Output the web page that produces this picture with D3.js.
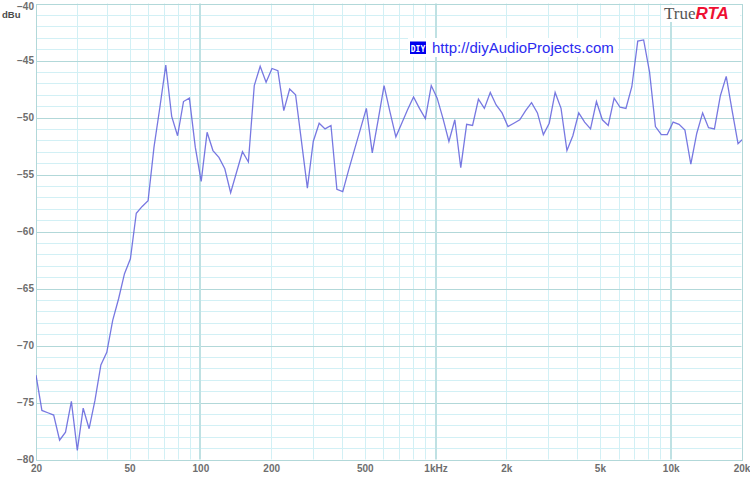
<!DOCTYPE html>
<html>
<head>
<meta charset="utf-8">
<script src="https://cdn.jsdelivr.net/npm/d3@7"></script>
<style>
  html, body { margin: 0; padding: 0; background: #ffffff; }
  svg { display: block; }
</style>
</head>
<body>
<svg id="chart" width="750" height="484"></svg>
<script>
// ---- data ----
const freqs = [
  20.0, 21.19, 22.45, 23.78, 25.20, 26.70, 28.28, 29.97, 31.75, 33.64,
  35.64, 37.75, 40.00, 42.38, 44.90, 47.57, 50.40, 53.39, 56.57, 59.93,
  63.50, 67.27, 71.27, 75.51, 80.00, 84.76, 89.80, 95.14, 100.8, 106.8,
  113.1, 119.9, 127.0, 134.5, 142.5, 151.0, 160.0, 169.5, 179.6, 190.3,
  201.6, 213.6, 226.3, 239.7, 254.0, 269.1, 285.1, 302.0, 320.0, 339.0,
  359.2, 380.6, 403.2, 427.2, 452.5, 479.5, 508.0, 538.2, 570.2, 604.1,
  640.0, 678.1, 718.4, 761.1, 806.3, 854.3, 905.1, 958.9, 1016, 1076,
  1140, 1208, 1280, 1356, 1437, 1522, 1613, 1709, 1810, 1918,
  2032, 2153, 2281, 2416, 2560, 2712, 2874, 3044, 3225, 3417,
  3620, 3836, 4064, 4305, 4561, 4833, 5120, 5424, 5747, 6089,
  6451, 6834, 7241, 7671, 8127, 8611, 9123, 9665, 10240, 10849,
  11494, 12177, 12902, 13669, 14482, 15343, 16255, 17222, 18246, 19331,
  20480
];
const dbu = [
  -72.6, -75.7, -75.9, -76.1, -78.3, -77.6, -74.9, -79.2, -75.5, -77.3,
  -74.8, -71.7, -70.6, -67.8, -65.9, -63.7, -62.4, -58.4, -57.8, -57.3,
  -52.6, -49.1, -45.4, -49.9, -51.6, -48.6, -48.3, -52.6, -55.6, -51.3,
  -52.9, -53.5, -54.5, -56.6, -54.8, -53.0, -53.9, -47.2, -45.5, -46.9,
  -45.7, -45.9, -49.4, -47.5, -48.0, -52.1, -56.2, -52.1, -50.5, -51.0,
  -50.7, -56.3, -56.5, -54.6, -52.8, -51.0, -49.2, -53.1, -50.2, -47.2,
  -49.5, -51.7, -50.5, -49.3, -48.2, -49.2, -50.1, -47.2, -48.3, -50.1,
  -52.1, -50.2, -54.4, -50.6, -50.7, -48.4, -49.2, -47.8, -48.9, -49.6,
  -50.8, -50.5, -50.2, -49.4, -48.7, -49.6, -51.5, -50.5, -47.8, -49.2,
  -52.9, -51.6, -49.6, -50.4, -51.0, -48.6, -50.2, -50.7, -48.3, -49.1,
  -49.2, -47.3, -43.3, -43.2, -46.0, -50.8, -51.5, -51.5, -50.4, -50.6,
  -51.1, -54.1, -51.4, -49.6, -50.9, -51.0, -48.1, -46.4, -49.4, -52.3,
  -51.8
];
const xTickValues = [20, 50, 100, 200, 500, 1000, 2000, 5000, 10000, 20000];
const xTickLabels = ["20", "50", "100", "200", "500", "1kHz", "2k", "5k", "10k", "20k"];
const xGridValues = [30, 40, 50, 60, 70, 80, 90, 100, 200, 300, 400, 500, 600, 700, 800, 900,
  1000, 2000, 3000, 4000, 5000, 6000, 7000, 8000, 9000, 10000];
const xMajorGrid = [100, 1000, 10000];
const yTickValues = [-40, -45, -50, -55, -60, -65, -70, -75, -80];
const yUnit = "dBu";
const brandA = "True", brandB = "RTA";
const linkText = "http://diyAudioProjects.com";
const logoText = "DIY";

// ---- chart ----
const svg = d3.select("#chart");
const x = d3.scaleLog().domain([20, 20000]).range([36, 741.5]);
const y = d3.scaleLinear().domain([-80, -40]).range([459.5, 3.5]);
const px = v => Math.round(v) + 0.5;

const g = svg.append("g");
// minor horizontal grid (each dB)
const yMinor = d3.range(-80, -39, 1);
g.selectAll("line.hmin").data(yMinor.filter(v => v % 5 !== 0)).join("line")
  .attr("x1", x(20)).attr("x2", x(20000))
  .attr("y1", d => px(y(d))).attr("y2", d => px(y(d)))
  .attr("stroke", "#d2f0f5").attr("stroke-width", 1);
// vertical grid
g.selectAll("line.vmin").data(xGridValues.filter(v => !xMajorGrid.includes(v))).join("line")
  .attr("x1", d => px(x(d))).attr("x2", d => px(x(d)))
  .attr("y1", y(-40)).attr("y2", y(-80))
  .attr("stroke", "#d2f0f5").attr("stroke-width", 1);
// major horizontal (5 dB)
g.selectAll("line.hmaj").data(yMinor.filter(v => v % 5 === 0 && v !== -80)).join("line")
  .attr("x1", x(20)).attr("x2", x(20000))
  .attr("y1", d => px(y(d))).attr("y2", d => px(y(d)))
  .attr("stroke", "#b2d8d9").attr("stroke-width", 1);
// major vertical decades
g.selectAll("line.vmaj").data(xMajorGrid).join("line")
  .attr("x1", d => Math.round(x(d))).attr("x2", d => Math.round(x(d)))
  .attr("y1", y(-40)).attr("y2", y(-80))
  .attr("stroke", "#bfe1e3").attr("stroke-width", 2);
// frame
g.append("rect")
  .attr("x", px(x(20))).attr("y", px(y(-40)))
  .attr("width", Math.round(x(20000)) - Math.round(x(20)))
  .attr("height", Math.round(y(-80)) - Math.round(y(-40)))
  .attr("fill", "none").attr("stroke", "#b2d8d9").attr("stroke-width", 1);

// brand & link backgrounds
svg.append("rect").attr("x", 661).attr("y", 5).attr("width", 79).attr("height", 17).attr("fill", "#fff");
svg.append("rect").attr("x", 408).attr("y", 38).attr("width", 210).attr("height", 19).attr("fill", "#fff");

// clip
svg.append("defs").append("clipPath").attr("id", "clip")
  .append("rect").attr("x", x(20)).attr("y", y(-40))
  .attr("width", x(20000) - x(20) + 0.5).attr("height", y(-80) - y(-40));

const line = d3.line().x((d, i) => x(freqs[i])).y(d => y(d));
svg.append("path").datum(dbu)
  .attr("clip-path", "url(#clip)")
  .attr("d", line)
  .attr("fill", "none")
  .attr("stroke", "#6060dc")
  .attr("stroke-opacity", 0.85)
  .attr("stroke-width", 1.3)
  .attr("stroke-linejoin", "miter");

// axes labels
const labelFont = "'Liberation Sans', Arial, sans-serif";
const xAxis = d3.axisBottom(x).tickValues(xTickValues)
  .tickFormat((d, i) => xTickLabels[i]).tickSize(0).tickPadding(0);
const xg = svg.append("g").attr("transform", "translate(0,462)").call(xAxis);
xg.select(".domain").remove();
xg.selectAll("text").attr("dy", 0).attr("y", 10)
  .attr("font-family", labelFont).attr("font-size", "10px").attr("font-weight", "bold").attr("fill", "#6e6e6e");

const yAxis = d3.axisLeft(y).tickValues(yTickValues).tickFormat(d3.format("d")).tickSize(0).tickPadding(0);
const yg = svg.append("g").attr("transform", "translate(34,0)").call(yAxis);
yg.select(".domain").remove();
yg.selectAll(".tick").attr("transform", d => `translate(0,${Math.max(y(d), 7)})`);
yg.selectAll("text").attr("x", 0)
  .attr("font-family", labelFont).attr("font-size", "10px").attr("font-weight", "bold").attr("fill", "#6e6e6e");

svg.append("text").attr("x", 2).attr("y", 18).text(yUnit)
  .attr("font-family", labelFont).attr("font-size", "9.5px").attr("font-weight", "bold").attr("fill", "#4a4a4a");

// TrueRTA brand
const brand = svg.append("text").attr("x", 664).attr("y", 19);
brand.append("tspan").text(brandA)
  .attr("font-family", "'Liberation Serif', 'Times New Roman', serif").attr("font-size", "17px").attr("fill", "#555");
brand.append("tspan").text(brandB)
  .attr("font-family", labelFont).attr("font-size", "17px").attr("font-weight", "bold").attr("font-style", "italic").attr("fill", "#ee1133");

// DIY logo + link
svg.append("rect").attr("x", 410).attr("y", 41.5).attr("width", 16).attr("height", 12.5).attr("fill", "#0000ee");
svg.append("text").attr("x", 418).attr("y", 51.5).attr("text-anchor", "middle").text(logoText)
  .attr("font-family", "'DejaVu Sans Mono', monospace").attr("font-size", "8px").attr("font-weight", "bold").attr("fill", "#fff");
svg.append("text").attr("x", 432).attr("y", 53).text(linkText)
  .attr("font-family", labelFont).attr("font-size", "15px").attr("fill", "#2b2bef");
</script>
</body>
</html>
